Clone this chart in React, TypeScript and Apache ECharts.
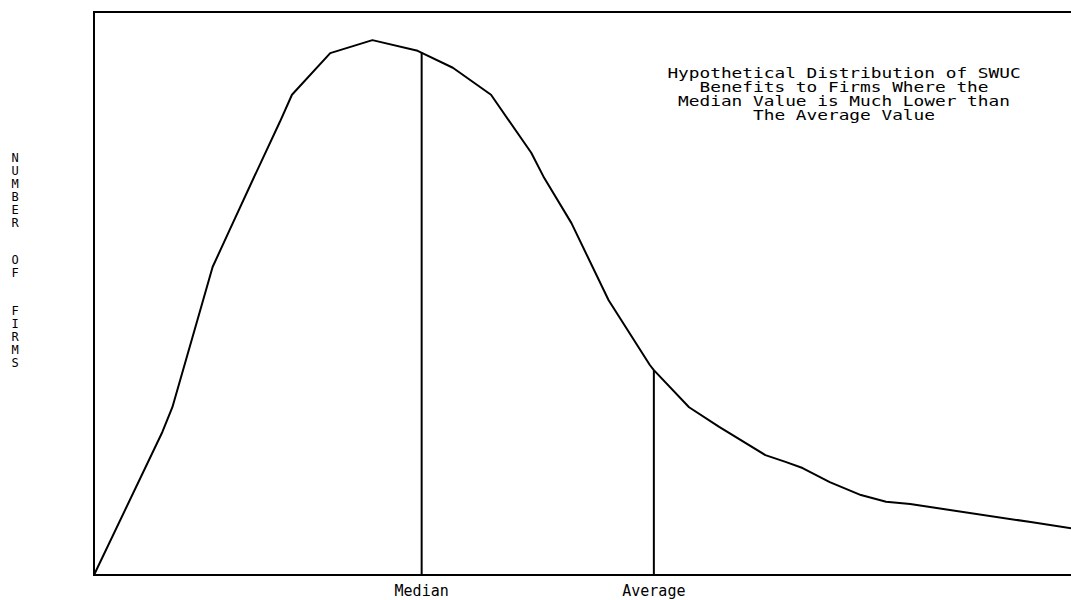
import React, { useEffect, useRef } from "react";
import * as echarts from "echarts";

// Distribution curve (x: benefit scale 0-100, y: number of firms 0-100)
const curveX = [0, 6.97, 7.99, 11.07, 12.09, 13.83, 16.19, 18.95, 20.18, 24.08, 28.38, 32.99, 36.58, 40.47, 44.57, 45.9, 48.67, 52.46, 56.66, 57.07, 60.66, 63.73, 68.44, 70.49, 72.23, 75.0, 78.18, 80.74, 83.2, 95.49, 100];
const curveY = [0, 25.4, 29.8, 48.5, 54.7, 61.3, 70.2, 80.5, 85.3, 92.7, 95.0, 93.1, 90.1, 85.3, 75.0, 70.5, 62.5, 48.8, 37.3, 36.4, 29.8, 26.3, 21.3, 20.1, 19.0, 16.5, 14.2, 13.0, 12.6, 9.4, 8.2];

const markerNames = ["Median", "Average"];
const markerX = [33.4, 57.07];
const markerTop = [92.8, 36.4];

const titleLines = [
  "Hypothetical Distribution of SWUC",
  "Benefits to Firms Where the",
  "Median Value is Much Lower than",
  "The Average Value",
];
const yLabelWords = ["NUMBER", "OF", "FIRMS"];

const FONT = "'DejaVu Sans Mono', 'Liberation Mono', monospace";

export default function App() {
  const ref = useRef<HTMLDivElement>(null);

  useEffect(() => {
    if (!ref.current) return;
    const chart = echarts.init(ref.current, null, { renderer: "svg" });

    const curveData = curveX.map((x, i) => [x, curveY[i]]);
    const markerSeries = markerX.map((x, i) => ({
      type: "line",
      name: markerNames[i],
      data: [
        [x, 0],
        [x, markerTop[i]],
      ],
      symbol: "none",
      lineStyle: { color: "#000", width: 2 },
      silent: true,
    }));

    const wordTops = [151, 253, 304];

    chart.setOption({
      animation: false,
      backgroundColor: "#fff",
      grid: {
        left: 94,
        top: 12,
        bottom: 25,
        right: -4,
        show: true,
        borderColor: "#000",
        borderWidth: 2,
        backgroundColor: "transparent",
        outerBoundsMode: "none",
        containLabel: false,
      },
      xAxis: {
        type: "value",
        min: 0,
        max: 100,
        axisLine: { show: true, lineStyle: { color: "#000", width: 2 } },
        axisTick: { show: false },
        splitLine: { show: false },
        axisLabel: {
          customValues: markerX,
          formatter: (v: number) => {
            const idx = markerX.findIndex((m) => Math.abs(m - v) < 1e-6);
            return idx >= 0 ? markerNames[idx] : "";
          },
          color: "#000",
          fontFamily: FONT,
          fontSize: 15,
          margin: 8,
        },
      },
      yAxis: {
        type: "value",
        min: 0,
        max: 100,
        axisLine: { show: true, lineStyle: { color: "#000", width: 2 } },
        axisTick: { show: false },
        axisLabel: { show: false },
        splitLine: { show: false },
      },
      series: [
        {
          type: "line",
          name: "Firms",
          data: curveData,
          symbol: "none",
          smooth: false,
          lineStyle: { color: "#000", width: 2 },
          silent: true,
        },
        ...markerSeries,
      ],
      graphic: [
        {
          type: "text",
          x: 844,
          y: 66,
          scaleX: 1.27,
          style: {
            text: titleLines.join("\n"),
            textAlign: "center",
            textVerticalAlign: "top",
            font: `14px ${FONT}`,
            lineHeight: 14,
            fill: "#000",
          },
        },
        ...yLabelWords.map((w, i) => ({
          type: "text",
          x: 15,
          y: wordTops[i],
          style: {
            text: w.split("").join("\n"),
            textAlign: "center",
            textVerticalAlign: "top",
            font: `12px ${FONT}`,
            lineHeight: 13,
            fill: "#000",
          },
        })),
      ],
    });

    return () => chart.dispose();
  }, []);

  return (
    <div
      ref={ref}
      style={{ position: "absolute", left: 0, top: 0, width: 1071, height: 600, background: "#fff" }}
    />
  );
}
